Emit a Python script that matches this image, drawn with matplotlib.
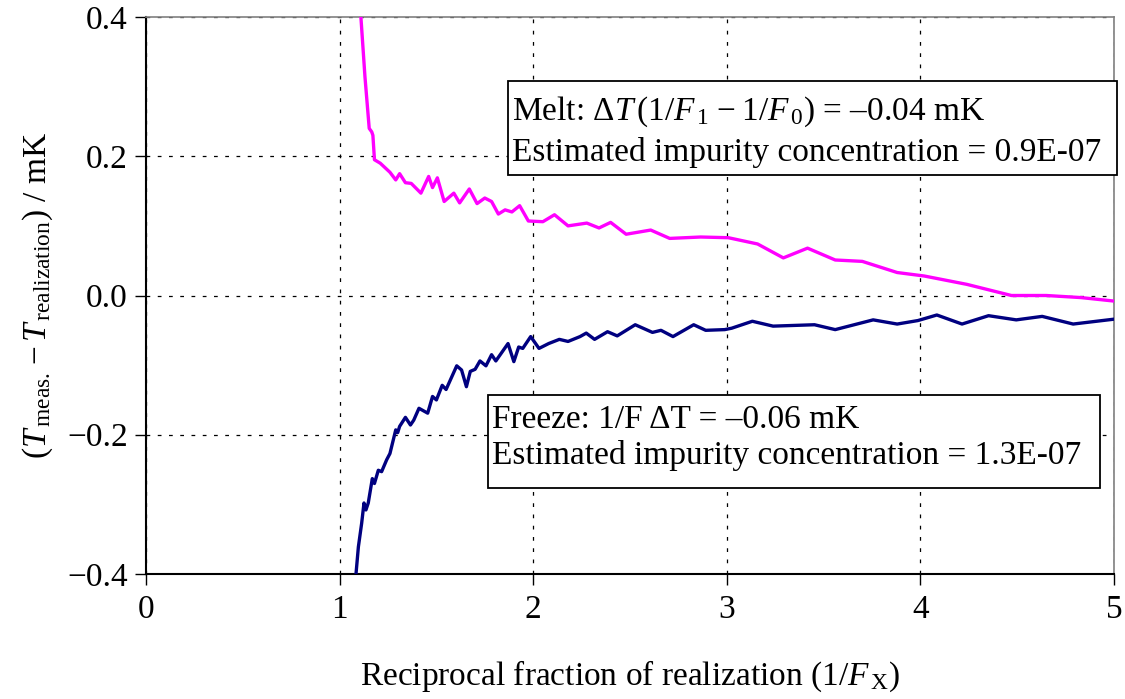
import matplotlib
matplotlib.use("Agg")
import matplotlib.pyplot as plt
from matplotlib.patches import Rectangle

plt.rcParams['font.family'] = ['Liberation Serif', 'DejaVu Serif']
plt.rcParams['mathtext.fontset'] = 'custom'
plt.rcParams['mathtext.rm'] = 'Liberation Serif'
plt.rcParams['mathtext.it'] = 'Liberation Serif:italic'
plt.rcParams['mathtext.bf'] = 'Liberation Serif:bold'

# Melt curve (magenta)
melt_x = [1.105, 1.11, 1.131, 1.153, 1.166, 1.172, 1.18, 1.21, 1.26, 1.29, 1.31, 1.34,
          1.37, 1.42, 1.46, 1.48, 1.505, 1.54, 1.59, 1.62, 1.67, 1.71, 1.75, 1.785,
          1.82, 1.855, 1.89, 1.93, 1.975, 2.05, 2.11, 2.18, 2.277, 2.34, 2.40, 2.48,
          2.607, 2.705, 2.865, 3.008, 3.159, 3.292, 3.417, 3.56, 3.70, 3.88, 4.02,
          4.24, 4.47, 4.65, 4.83, 5.0]
melt_y = [0.45, 0.40, 0.314, 0.240, 0.235, 0.23, 0.195, 0.19, 0.177, 0.166, 0.175, 0.162,
          0.161, 0.147, 0.171, 0.155, 0.169, 0.135, 0.147, 0.133, 0.153, 0.132, 0.140, 0.135,
          0.117, 0.123, 0.120, 0.129, 0.107, 0.106, 0.116, 0.100, 0.104, 0.097, 0.105, 0.088,
          0.094, 0.082, 0.084, 0.083, 0.074, 0.054, 0.068, 0.051, 0.049, 0.033, 0.028,
          0.016, 0.0, 0.0, -0.003, -0.008]

# Freeze curve (navy)
freeze_x = [1.075, 1.085, 1.097, 1.114, 1.126, 1.136, 1.148, 1.169, 1.18, 1.20, 1.217,
            1.243, 1.26, 1.29, 1.30, 1.31, 1.34, 1.366, 1.383, 1.41, 1.455, 1.48, 1.50,
            1.53, 1.55, 1.605, 1.63, 1.655, 1.675, 1.70, 1.725, 1.756, 1.785, 1.807,
            1.87, 1.90, 1.925, 1.946, 1.987, 2.03, 2.08, 2.135, 2.18, 2.242, 2.274,
            2.317, 2.384, 2.434, 2.527, 2.616, 2.660, 2.722, 2.829, 2.891, 2.989, 3.025,
            3.132, 3.239, 3.453, 3.560, 3.756, 3.880, 3.987, 4.085, 4.215, 4.352, 4.495,
            4.629, 4.789, 5.0]
freeze_y = [-0.45, -0.399, -0.361, -0.327, -0.298, -0.308, -0.298, -0.263, -0.270, -0.251,
            -0.253, -0.236, -0.227, -0.193, -0.197, -0.188, -0.175, -0.186, -0.179, -0.162,
            -0.169, -0.145, -0.150, -0.129, -0.135, -0.101, -0.107, -0.131, -0.109, -0.106,
            -0.094, -0.101, -0.085, -0.094, -0.069, -0.095, -0.074, -0.076, -0.059, -0.076,
            -0.069, -0.063, -0.066, -0.059, -0.054, -0.063, -0.052, -0.058, -0.042, -0.053,
            -0.050, -0.059, -0.042, -0.050, -0.049, -0.047, -0.037, -0.044, -0.042, -0.049,
            -0.035, -0.041, -0.036, -0.028, -0.041, -0.029, -0.035, -0.030, -0.041, -0.034]

x_ticks = [0, 1, 2, 3, 4, 5]
y_ticks = [-0.4, -0.2, 0.0, 0.2, 0.4]
y_tick_labels = ['\u22120.4', '\u22120.2', '0.0', '0.2', '0.4']

melt_line1 = r"Melt: $\Delta T\,(1/F_{\,1}\;\mathrm{-}\;1/F_{\,0})$ = " + "\u20130.04 mK"
melt_line2 = "Estimated impurity concentration = 0.9E-07"
freeze_line1 = "Freeze: 1/F \u0394T = \u20130.06 mK"
freeze_line2 = "Estimated impurity concentration = 1.3E-07"

FS = 24

fig = plt.figure(figsize=(11.25, 6.99), dpi=100)
ax = fig.add_axes([146/1125, 1 - 574/699, (1114-146)/1125, (574-17)/699])

ax.plot(melt_x, melt_y, color='#FF00FF', lw=2.4, solid_joinstyle='round', zorder=3)
ax.plot(freeze_x, freeze_y, color='#000080', lw=2.4, solid_joinstyle='round', zorder=3)

ax.set_xlim(0, 5)
ax.set_ylim(-0.4, 0.4)
ax.set_xticks(x_ticks)
ax.set_xticklabels([str(t) for t in x_ticks])
ax.set_yticks(y_ticks)
ax.set_yticklabels(y_tick_labels)

ax.grid(True, color='black', linestyle=(0, (3, 6)), linewidth=0.9)
ax.set_axisbelow(True)

for s in ['left', 'bottom']:
    ax.spines[s].set_color('black')
    ax.spines[s].set_linewidth(1.5)
for s in ['top', 'right']:
    ax.spines[s].set_color('#808080')
    ax.spines[s].set_linewidth(1.2)

ax.tick_params(axis='both', direction='out', length=8, width=1.0, labelsize=24)
ax.tick_params(axis='x', pad=7)
ax.tick_params(axis='y', pad=5)

ax.set_xlabel(r"Reciprocal fraction of realization (1/$F_{\,\mathrm{X}}$)", fontsize=24, labelpad=24)
ax.set_ylabel(r"$(T_{\,\mathrm{meas.}}\,\mathrm{-}\,T_{\,\mathrm{realization}})$ / mK", fontsize=24, labelpad=9)

# Text boxes
ax.add_patch(Rectangle((0.374, 0.7163), 1.003 - 0.374, 0.885 - 0.7163, transform=ax.transAxes,
                       facecolor='white', edgecolor='black', lw=1.3, zorder=4, clip_on=False))
ax.text(0.3778, 0.8163, melt_line1, transform=ax.transAxes, fontsize=FS, va='baseline', ha='left', zorder=5)
ax.text(0.3778, 0.7415, melt_line2, transform=ax.transAxes, fontsize=FS, va='baseline', ha='left', zorder=5)

ax.add_patch(Rectangle((0.3533, 0.1544), 0.9855 - 0.3533, 0.3214 - 0.1544, transform=ax.transAxes,
                       facecolor='white', edgecolor='black', lw=1.3, zorder=4, clip_on=False))
ax.text(0.3574, 0.2627, freeze_line1, transform=ax.transAxes, fontsize=FS, va='baseline', ha='left', zorder=5)
ax.text(0.3574, 0.1975, freeze_line2, transform=ax.transAxes, fontsize=FS, va='baseline', ha='left', zorder=5)

fig.savefig('out.png', dpi=100)
